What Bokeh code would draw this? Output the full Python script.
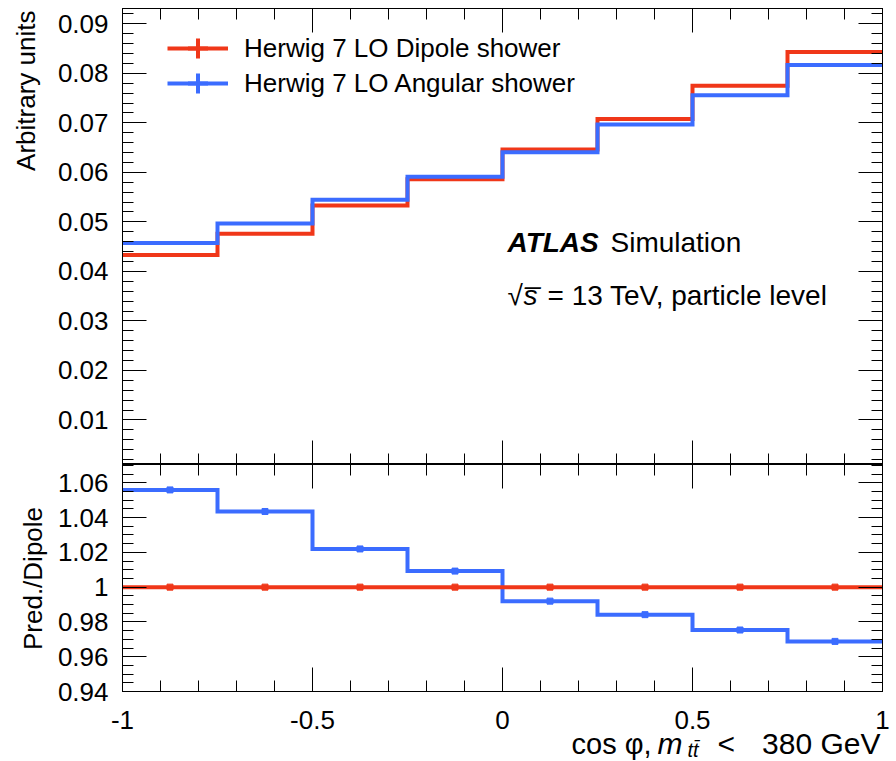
import numpy as np
from bokeh.plotting import figure
from bokeh.layouts import column, row
from bokeh.models import (Range1d, FixedTicker, LinearAxis, CustomJSTickFormatter,
                          Label, Legend, LegendItem, ColumnDataSource)
from bokeh.core.properties import value
from bokeh.embed import file_html
from bokeh.resources import INLINE

# ---------------- data ----------------
bin_edges = [-1.0, -0.75, -0.5, -0.25, 0.0, 0.25, 0.5, 0.75, 1.0]
dipole = [0.0433, 0.0476, 0.0533, 0.0586, 0.0646, 0.0708, 0.0775, 0.0843]
angular = [0.04572, 0.04967, 0.05447, 0.05914, 0.06408, 0.06968, 0.07559, 0.08167]
series_names = ["Herwig 7 LO Dipole shower", "Herwig 7 LO Angular shower"]

x_tick_vals = [-1.0, -0.5, 0.0, 0.5, 1.0]
x_tick_labels = ["-1", "-0.5", "0", "0.5", "1"]
main_tick_vals = [0.01, 0.02, 0.03, 0.04, 0.05, 0.06, 0.07, 0.08, 0.09]
main_tick_labels = ["0.01", "0.02", "0.03", "0.04", "0.05", "0.06", "0.07", "0.08", "0.09"]
ratio_tick_vals = [0.94, 0.96, 0.98, 1.0, 1.02, 1.04, 1.06]
ratio_tick_labels = ["0.94", "0.96", "0.98", "1", "1.02", "1.04", "1.06"]

# ---------------- style / layout ----------------
FONT = "Liberation Sans"
RED = "#F03719"
BLUE = "#3B6CFF"
X_LO, X_HI = -1.0, 1.0
Y1_LO, Y1_HI = 0.001, 0.0931
Y2_LO, Y2_HI = 0.94, 1.0705
STRIP_W = 53
MAIN_W = 896 - STRIP_W
FRAME_LEFT_PX = 122
FRAME_RIGHT_PX = 882
PX_PER_X = (FRAME_RIGHT_PX - FRAME_LEFT_PX) / (X_HI - X_LO)
TOP_H = 464
RATIO_FRAME_H = 227
RATIO_BORDER = 14
RATIO_H = RATIO_FRAME_H + RATIO_BORDER
BOTTOM_H = 761 - TOP_H - RATIO_H

edges = np.array(bin_edges)
centers = 0.5 * (edges[:-1] + edges[1:])
dip = np.array(dipole)
ang = np.array(angular)
ratio_dip = dip / dip
ratio_ang = ang / dip

x_minor = list(np.round(np.arange(-1.0, 1.0001, 0.1), 4))
main_minor = list(np.round(np.arange(0.002, 0.0931, 0.002), 4))
ratio_minor = list(np.round(np.arange(0.94, 1.0706, 0.005), 4))

LABEL_JS = ("const i = vals.findIndex(v => Math.abs(v - tick) < 1e-9);"
            "return i >= 0 ? labs[i] : '';")


def make_fig(h, yr, top, bottom):
    p = figure(width=MAIN_W, height=h, x_range=Range1d(X_LO, X_HI), y_range=Range1d(*yr),
               output_backend="svg", toolbar_location=None,
               min_border_left=69, min_border_right=14,
               min_border_top=top, min_border_bottom=bottom)
    p.grid.visible = False
    p.outline_line_color = "black"
    p.outline_line_width = 1
    p.outline_line_alpha = 1
    p.background_fill_color = "white"
    p.border_fill_color = "white"
    return p


def style_axis(ax, ticks, minor, labels=None, standoff=14):
    ax.ticker = FixedTicker(ticks=ticks, minor_ticks=minor)
    ax.major_tick_in = 24
    ax.major_tick_out = 0
    ax.minor_tick_in = 11
    ax.minor_tick_out = 0
    ax.major_tick_line_color = "black"
    ax.minor_tick_line_color = "black"
    ax.axis_line_color = "black"
    ax.axis_label = None
    if labels is not None:
        ax.formatter = CustomJSTickFormatter(args=dict(vals=ticks, labs=labels), code=LABEL_JS)
        ax.major_label_text_font = FONT
        ax.major_label_text_font_size = "26px"
        ax.major_label_text_color = "black"
        ax.major_label_standoff = standoff
    else:
        ax.formatter = CustomJSTickFormatter(code="return '';")
        ax.major_label_text_font_size = "0px"
        ax.major_label_standoff = 0


def blank_fig(w, h, x_range, y_range):
    p = figure(width=w, height=h, x_range=x_range, y_range=y_range,
               output_backend="svg", toolbar_location=None,
               x_axis_location=None, y_axis_location=None,
               min_border_left=0, min_border_right=0, min_border_top=0, min_border_bottom=0)
    p.grid.visible = False
    p.outline_line_color = None
    p.background_fill_color = "white"
    p.border_fill_color = "white"
    return p


# ---------------- main panel ----------------
p1 = make_fig(TOP_H, (Y1_LO, Y1_HI), 8, 0)
style_axis(p1.yaxis[0], main_tick_vals, main_minor, main_tick_labels, 14)
style_axis(p1.xaxis[0], x_tick_vals, x_minor)
ax_r = LinearAxis()
style_axis(ax_r, main_tick_vals, main_minor)
p1.add_layout(ax_r, "right")
ax_t = LinearAxis()
style_axis(ax_t, x_tick_vals, x_minor)
p1.add_layout(ax_t, "above")

r_dip = p1.step(x=edges, y=np.append(dip, dip[-1]), mode="after", line_color=RED,
                line_width=4, line_join="miter")
c_dip = p1.scatter(x=centers, y=dip, marker="cross", size=0, line_color=RED, line_width=4)
r_ang = p1.step(x=edges, y=np.append(ang, ang[-1]), mode="after", line_color=BLUE,
                line_width=4, line_join="miter")
c_ang = p1.scatter(x=centers, y=ang, marker="cross", size=0, line_color=BLUE, line_width=4)

leg_kw = dict(orientation="vertical", glyph_width=61, glyph_height=50,
              label_standoff=16, spacing=0, padding=0, margin=0,
              border_line_alpha=0, background_fill_alpha=0,
              label_text_font=FONT, label_text_font_size="26px", label_text_color="black")
p1.add_layout(Legend(items=[LegendItem(label=series_names[0], renderers=[r_dip, c_dip])],
                     location=(45, 391), **leg_kw))
p1.add_layout(Legend(items=[LegendItem(label=series_names[1], renderers=[r_ang, c_ang])],
                     location=(45, 356), **leg_kw))

lab_kw = dict(text_font=FONT, text_font_size="28px", text_color="black",
              text_baseline="alphabetic", text_align="left")
p1.add_layout(Label(x=X_LO, y=Y1_HI, x_offset=385, y_offset=-234, text="ATLAS",
                    text_font_style="bold italic", **lab_kw))
p1.add_layout(Label(x=X_LO, y=Y1_HI, x_offset=488, y_offset=-234, text="Simulation", **lab_kw))
p1.add_layout(Label(x=X_LO, y=Y1_HI, x_offset=385, y_offset=-287, text="\u221a", **lab_kw))
p1.add_layout(Label(x=X_LO, y=Y1_HI, x_offset=401, y_offset=-287, text="s\u0305",
                    text_font_style="italic", **lab_kw))
p1.add_layout(Label(x=X_LO, y=Y1_HI, x_offset=425, y_offset=-287,
                    text="= 13 TeV, particle level", **lab_kw))

# ---------------- ratio panel ----------------
p2 = make_fig(RATIO_H, (Y2_LO, Y2_HI), 0, RATIO_BORDER)
style_axis(p2.yaxis[0], ratio_tick_vals, ratio_minor, ratio_tick_labels, 14)
style_axis(p2.xaxis[0], x_tick_vals, x_minor)
ax_r2 = LinearAxis()
style_axis(ax_r2, ratio_tick_vals, ratio_minor)
p2.add_layout(ax_r2, "right")
ax_t2 = LinearAxis()
style_axis(ax_t2, x_tick_vals, x_minor)
p2.add_layout(ax_t2, "above")

p2.step(x=edges, y=np.append(ratio_ang, ratio_ang[-1]), mode="after", line_color=BLUE,
        line_width=4, line_join="miter")
p2.scatter(x=centers, y=ratio_ang, marker="square", size=6, fill_color=BLUE, line_color=BLUE)
p2.step(x=edges, y=np.append(ratio_dip, ratio_dip[-1]), mode="after", line_color=RED,
        line_width=4, line_join="miter")
p2.scatter(x=centers, y=ratio_dip, marker="square", size=6, fill_color=RED, line_color=RED)

# ---------------- bottom strip: x tick labels + x-axis title ----------------
bx_range = Range1d(X_LO - FRAME_LEFT_PX / PX_PER_X, X_LO + (896 - FRAME_LEFT_PX) / PX_PER_X)
p3 = blank_fig(896, BOTTOM_H, bx_range, Range1d(0, BOTTOM_H))
tick_src = ColumnDataSource(dict(x=x_tick_vals, y=[42] * len(x_tick_vals), t=x_tick_labels))
p3.text(x="x", y="y", text="t", source=tick_src, text_align="center",
        text_baseline="alphabetic", text_font=value(FONT), text_font_size=value("26px"),
        text_color="black")

xt_kw = dict(text_font=FONT, text_color="black", text_baseline="alphabetic", text_align="left")
p3.add_layout(Label(x=X_LO, y=18, x_offset=449, text="cos \u03c6,",
                    text_font_size="29px", **xt_kw))
p3.add_layout(Label(x=X_LO, y=18, x_offset=535, text="m",
                    text_font_size="30px", text_font_style="italic", **xt_kw))
p3.add_layout(Label(x=X_LO, y=12, x_offset=565, text="tt\u0304",
                    text_font_size="20px", text_font_style="italic", **xt_kw))
p3.add_layout(Label(x=X_LO, y=18, x_offset=595, text="<",
                    text_font_size="30px", **xt_kw))
p3.add_layout(Label(x=X_HI, y=18, x_offset=-2, text="380 GeV",
                    text_font_size="30px", text_font=FONT, text_color="black",
                    text_baseline="alphabetic", text_align="right"))

# ---------------- left strip: y-axis titles ----------------
ps = blank_fig(STRIP_W, TOP_H + RATIO_H, Range1d(0, 1), Range1d(0, 1))
ps.add_layout(Label(x=0, y=1, x_offset=25, y_offset=-10, text="Arbitrary units",
                    angle=np.pi / 2, text_align="right", text_baseline="alphabetic",
                    text_font=FONT, text_font_size="26px", text_color="black"))
ps.add_layout(Label(x=0, y=0, x_offset=32, y_offset=TOP_H + RATIO_H - 578, text="Pred./Dipole",
                    angle=np.pi / 2, text_align="center", text_baseline="alphabetic",
                    text_font=FONT, text_font_size="26px", text_color="black"))

layout = column(row(ps, column(p1, p2, spacing=0), spacing=0), p3, spacing=0)
open("out.html", "w").write(file_html(layout, INLINE))
